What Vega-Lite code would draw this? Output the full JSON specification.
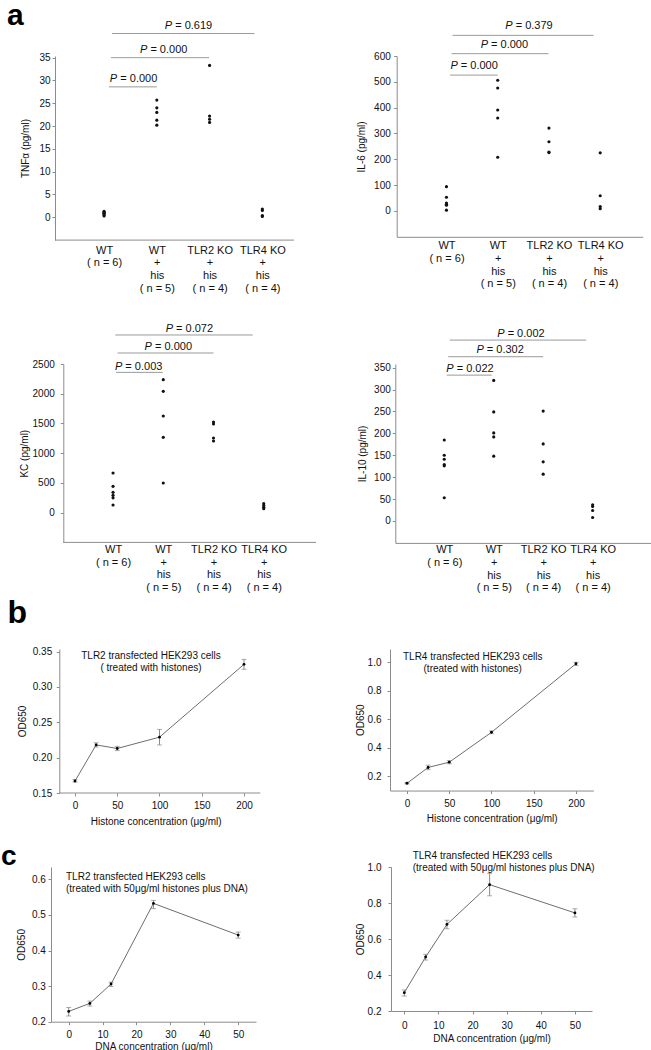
{
"$schema": "https://vega.github.io/schema/vega-lite/v6.json",
"padding": 0,
"background": "white",
"config": {
 "font": "Liberation Sans",
 "view": {"stroke": null},
 "axis": {"grid": false, "domainColor": "#8c8c8c", "tickColor": "#8c8c8c", "labelFont": "Liberation Sans", "titleFont": "Liberation Sans", "labelColor": "#111", "titleColor": "#111", "labelFontSize": 10, "titleFontSize": 10, "titleFontWeight": "normal", "tickSize": 3, "labelPadding": 2, "labelOverlap": false, "tickCount": 50},
 "text": {"font": "Liberation Sans", "color": "#111"}
},
"datasets": {
 "tnf": [{"g":1,"v":0.3},{"g":1,"v":0.5},{"g":1,"v":0.7},{"g":1,"v":0.9},{"g":1,"v":1.1},{"g":1,"v":1.3},{"g":2,"v":25.7},{"g":2,"v":24.0},{"g":2,"v":23.0},{"g":2,"v":21.3},{"g":2,"v":20.2},{"g":3,"v":33.3},{"g":3,"v":22.2},{"g":3,"v":21.5},{"g":3,"v":20.8},{"g":4,"v":1.8},{"g":4,"v":1.5},{"g":4,"v":0.4},{"g":4,"v":0.2}],
 "tnfp": [{"x1":1.09,"x2":2.0,"xm":1.56,"y":28.6,"p":"= 0.000"},{"x1":1.13,"x2":2.99,"xm":2.13,"y":35.0,"p":"= 0.000"},{"x1":1.15,"x2":3.85,"xm":2.6,"y":40.3,"p":"= 0.619"}],
 "il6": [{"g":1,"v":94},{"g":1,"v":53},{"g":1,"v":31},{"g":1,"v":26},{"g":1,"v":22},{"g":1,"v":3},{"g":2,"v":506},{"g":2,"v":476},{"g":2,"v":391},{"g":2,"v":360},{"g":2,"v":208},{"g":3,"v":321},{"g":3,"v":268},{"g":3,"v":228},{"g":3,"v":226},{"g":4,"v":225},{"g":4,"v":59},{"g":4,"v":17},{"g":4,"v":9}],
 "il6p": [{"x1":1.07,"x2":2.0,"xm":1.54,"y":526,"p":"= 0.000"},{"x1":1.1,"x2":2.99,"xm":2.13,"y":609,"p":"= 0.000"},{"x1":1.12,"x2":3.87,"xm":2.61,"y":680,"p":"= 0.379"}],
 "kc": [{"g":1,"v":667},{"g":1,"v":443},{"g":1,"v":342},{"g":1,"v":291},{"g":1,"v":250},{"g":1,"v":129},{"g":2,"v":2237},{"g":2,"v":2040},{"g":2,"v":1626},{"g":2,"v":1267},{"g":2,"v":499},{"g":3,"v":1525},{"g":3,"v":1491},{"g":3,"v":1256},{"g":3,"v":1205},{"g":4,"v":151},{"g":4,"v":120},{"g":4,"v":90},{"g":4,"v":67}],
 "kcp": [{"x1":1.06,"x2":1.99,"xm":1.51,"y":2359,"p":"= 0.003"},{"x1":1.09,"x2":3.0,"xm":2.1,"y":2685,"p":"= 0.000"},{"x1":1.045,"x2":3.78,"xm":2.52,"y":2988,"p":"= 0.072"}],
 "il10": [{"g":1,"v":185},{"g":1,"v":150},{"g":1,"v":141},{"g":1,"v":129},{"g":1,"v":126},{"g":1,"v":53},{"g":2,"v":321},{"g":2,"v":249},{"g":2,"v":201},{"g":2,"v":192},{"g":2,"v":148},{"g":3,"v":251},{"g":3,"v":176},{"g":3,"v":135},{"g":3,"v":107},{"g":4,"v":37},{"g":4,"v":33},{"g":4,"v":24},{"g":4,"v":8}],
 "il10p": [{"x1":1.05,"x2":1.96,"xm":1.52,"y":333,"p":"= 0.022"},{"x1":1.08,"x2":3.0,"xm":2.13,"y":375,"p":"= 0.302"},{"x1":1.11,"x2":3.87,"xm":2.55,"y":413,"p":"= 0.002"}],
 "b1": [{"c":0,"od":0.167,"lo":0.1655,"hi":0.169},{"c":25,"od":0.218,"lo":0.215,"hi":0.221},{"c":50,"od":0.213,"lo":0.210,"hi":0.216},{"c":100,"od":0.229,"lo":0.218,"hi":0.240},{"c":200,"od":0.332,"lo":0.325,"hi":0.339}],
 "b2": [{"c":0,"od":0.151,"lo":0.146,"hi":0.156},{"c":25,"od":0.262,"lo":0.247,"hi":0.278},{"c":50,"od":0.299,"lo":0.288,"hi":0.31},{"c":100,"od":0.509,"lo":0.499,"hi":0.518},{"c":200,"od":0.99,"lo":0.977,"hi":1.0}],
 "c1": [{"c":0,"od":0.229,"lo":0.216,"hi":0.240},{"c":6.25,"od":0.2515,"lo":0.244,"hi":0.258},{"c":12.5,"od":0.306,"lo":0.299,"hi":0.311},{"c":25,"od":0.5326,"lo":0.518,"hi":0.541},{"c":50,"od":0.4436,"lo":0.435,"hi":0.452}],
 "c2": [{"c":0,"od":0.302,"lo":0.283,"hi":0.317},{"c":6.25,"od":0.5,"lo":0.483,"hi":0.515},{"c":12.5,"od":0.681,"lo":0.657,"hi":0.704},{"c":25,"od":0.902,"lo":0.84,"hi":0.965},{"c":50,"od":0.745,"lo":0.722,"hi":0.768}]
},
"concat": [
 {"hconcat": [
  {"width": 243, "height": 184.1,
   "layer": [
    {"data": {"name": "tnf"}, "mark": {"type": "circle", "size": 10, "color": "#111", "opacity": 1},
     "encoding": {
      "x": {"field": "g", "type": "quantitative", "scale": {"domain": [-0.0057, 4.6], "nice": false, "zero": false},
            "axis": {"values": [1,2,3,4], "tickCount": 50, "labelExpr": "datum.value == 1 ? ['WT','( n = 6)'] : datum.value == 2 ? ['WT','+','his','( n = 5)'] : datum.value == 3 ? ['TLR2 KO','+','his','( n = 4)'] : ['TLR4 KO','+','his','( n = 4)']", "ticks": false, "tickSize": 0, "domain": false, "labelFontSize": 11, "labelBaseline": "top", "labelLineHeight": 12.7, "labelPadding": 4, "labelOverlap": false, "labelFlush": false, "labelBound": false, "title": " ", "titleFontSize": 10, "titlePadding": 19.5}},
      "y": {"field": "v", "type": "quantitative", "scale": {"domain": [-5, 35.37], "nice": false, "zero": false},
            "axis": {"values": [0,5,10,15,20,25,30,35], "tickCount": 50, "labelOverlap": false, "offset": -4, "labelPadding": 2, "title": "TNFα (pg/ml)", "titlePadding": 7.9}}
     }},
    {"data": {"name": "tnfp"}, "mark": {"type": "rule", "color": "#9a9a9a", "strokeWidth": 1},
     "encoding": {"x": {"field": "x1", "type": "quantitative"}, "x2": {"field": "x2"}, "y": {"field": "y", "type": "quantitative"}}},
    {"data": {"name": "tnfp"}, "mark": {"type": "text", "text": "P", "fontStyle": "italic", "fontSize": 11, "align": "right", "baseline": "alphabetic", "dx": -16.4, "dy": -5},
     "encoding": {"x": {"field": "xm", "type": "quantitative"}, "y": {"field": "y", "type": "quantitative"}}},
    {"data": {"name": "tnfp"}, "mark": {"type": "text", "fontSize": 11, "align": "left", "baseline": "alphabetic", "dx": -13.3, "dy": -5},
     "encoding": {"x": {"field": "xm", "type": "quantitative"}, "y": {"field": "y", "type": "quantitative"}, "text": {"field": "p"}}},
    {"data": {"values": [{}]}, "mark": {"type": "rule", "color": "#8c8c8c"},
     "encoding": {"x": {"datum": 0.07}, "x2": {"datum": 4.6}, "y": {"datum": -5}}},
    {"data": {"values": [{}]}, "mark": {"type": "text", "text": "a", "fontSize": 30, "fontWeight": "bold", "align": "left", "baseline": "alphabetic", "color": "#000"},
     "encoding": {"x": {"datum": -0.84}, "y": {"datum": 42.17}}}
   ]},
  {"width": 246, "height": 180.8,
   "layer": [
    {"data": {"name": "il6"}, "mark": {"type": "circle", "size": 10, "color": "#111", "opacity": 1},
     "encoding": {
      "x": {"field": "g", "type": "quantitative", "scale": {"domain": [0.029, 4.829], "nice": false, "zero": false},
            "axis": {"values": [1,2,3,4], "tickCount": 50, "labelExpr": "datum.value == 1 ? ['WT','( n = 6)'] : datum.value == 2 ? ['WT','+','his','( n = 5)'] : datum.value == 3 ? ['TLR2 KO','+','his','( n = 4)'] : ['TLR4 KO','+','his','( n = 4)']", "ticks": false, "tickSize": 0, "domain": true, "labelFontSize": 11, "labelBaseline": "top", "labelLineHeight": 12.7, "labelPadding": 3, "labelOverlap": false, "labelFlush": false, "labelBound": false, "title": null}},
      "y": {"field": "v", "type": "quantitative", "scale": {"domain": [-100, 600], "nice": false, "zero": false},
            "axis": {"values": [0,100,200,300,400,500,600], "tickCount": 50, "labelOverlap": false, "labelPadding": 3.4, "title": "IL-6 (pg/ml)", "titlePadding": 6.9}}
     }},
    {"data": {"name": "il6p"}, "mark": {"type": "rule", "color": "#9a9a9a", "strokeWidth": 1},
     "encoding": {"x": {"field": "x1", "type": "quantitative"}, "x2": {"field": "x2"}, "y": {"field": "y", "type": "quantitative"}}},
    {"data": {"name": "il6p"}, "mark": {"type": "text", "text": "P", "fontStyle": "italic", "fontSize": 11, "align": "right", "baseline": "alphabetic", "dx": -16.4, "dy": -6},
     "encoding": {"x": {"field": "xm", "type": "quantitative"}, "y": {"field": "y", "type": "quantitative"}}},
    {"data": {"name": "il6p"}, "mark": {"type": "text", "fontSize": 11, "align": "left", "baseline": "alphabetic", "dx": -13.3, "dy": -6},
     "encoding": {"x": {"field": "xm", "type": "quantitative"}, "y": {"field": "y", "type": "quantitative"}, "text": {"field": "p"}}}
   ]}
 ], "spacing": 102.7, "bounds": "flush"},
 {"hconcat": [
  {"width": 265, "height": 178.4,
   "layer": [
    {"data": {"name": "kc"}, "mark": {"type": "circle", "size": 10, "color": "#111", "opacity": 1},
     "encoding": {
      "x": {"field": "g", "type": "quantitative", "scale": {"domain": [-0.235, 5.04], "nice": false, "zero": false},
            "axis": {"values": [1,2,3,4], "tickCount": 50, "labelExpr": "datum.value == 1 ? ['WT','( n = 6)'] : datum.value == 2 ? ['WT','+','his','( n = 5)'] : datum.value == 3 ? ['TLR2 KO','+','his','( n = 4)'] : ['TLR4 KO','+','his','( n = 4)']", "ticks": false, "tickSize": 0, "domain": false, "labelFontSize": 11, "labelBaseline": "top", "labelLineHeight": 12.7, "labelPadding": 1, "labelOverlap": false, "labelFlush": false, "labelBound": false, "title": null}},
      "y": {"field": "v", "type": "quantitative", "scale": {"domain": [-500, 2500], "nice": false, "zero": false},
            "axis": {"values": [0,500,1000,1500,2000,2500], "tickCount": 50, "labelOverlap": false, "format": "d", "offset": -12.3, "labelPadding": 6, "title": "KC (pg/ml)", "titlePadding": 2.8}}
     }},
    {"data": {"name": "kcp"}, "mark": {"type": "rule", "color": "#9a9a9a", "strokeWidth": 1},
     "encoding": {"x": {"field": "x1", "type": "quantitative"}, "x2": {"field": "x2"}, "y": {"field": "y", "type": "quantitative"}}},
    {"data": {"name": "kcp"}, "mark": {"type": "text", "text": "P", "fontStyle": "italic", "fontSize": 11, "align": "right", "baseline": "alphabetic", "dx": -16.4, "dy": -2.6},
     "encoding": {"x": {"field": "xm", "type": "quantitative"}, "y": {"field": "y", "type": "quantitative"}}},
    {"data": {"name": "kcp"}, "mark": {"type": "text", "fontSize": 11, "align": "left", "baseline": "alphabetic", "dx": -13.3, "dy": -2.6},
     "encoding": {"x": {"field": "xm", "type": "quantitative"}, "y": {"field": "y", "type": "quantitative"}, "text": {"field": "p"}}},
    {"data": {"values": [{}]}, "mark": {"type": "rule", "color": "#8c8c8c"},
     "encoding": {"x": {"datum": 0.01}, "x2": {"datum": 5.04}, "y": {"datum": -500}}}
   ]},
  {"width": 256, "height": 178.9,
   "layer": [
    {"data": {"name": "il10"}, "mark": {"type": "circle", "size": 10, "color": "#111", "opacity": 1},
     "encoding": {
      "x": {"field": "g", "type": "quantitative", "scale": {"domain": [0.01, 5.186], "nice": false, "zero": false},
            "axis": {"values": [1,2,3,4], "tickCount": 50, "labelExpr": "datum.value == 1 ? ['WT','( n = 6)'] : datum.value == 2 ? ['WT','+','his','( n = 5)'] : datum.value == 3 ? ['TLR2 KO','+','his','( n = 4)'] : ['TLR4 KO','+','his','( n = 4)']", "ticks": false, "tickSize": 0, "domain": true, "labelFontSize": 11, "labelBaseline": "top", "labelLineHeight": 12.7, "labelPadding": 1, "labelOverlap": false, "labelFlush": false, "labelBound": false, "title": null}},
      "y": {"field": "v", "type": "quantitative", "scale": {"domain": [-50, 358.4], "nice": false, "zero": false},
            "axis": {"values": [0,50,100,150,200,250,300,350], "tickCount": 50, "labelOverlap": false, "labelPadding": 2, "title": "IL-10 (pg/ml)", "titlePadding": 6.6}}
     }},
    {"data": {"name": "il10p"}, "mark": {"type": "rule", "color": "#9a9a9a", "strokeWidth": 1},
     "encoding": {"x": {"field": "x1", "type": "quantitative"}, "x2": {"field": "x2"}, "y": {"field": "y", "type": "quantitative"}}},
    {"data": {"name": "il10p"}, "mark": {"type": "text", "text": "P", "fontStyle": "italic", "fontSize": 11, "align": "right", "baseline": "alphabetic", "dx": -16.4, "dy": -3.3},
     "encoding": {"x": {"field": "xm", "type": "quantitative"}, "y": {"field": "y", "type": "quantitative"}}},
    {"data": {"name": "il10p"}, "mark": {"type": "text", "fontSize": 11, "align": "left", "baseline": "alphabetic", "dx": -13.3, "dy": -3.3},
     "encoding": {"x": {"field": "xm", "type": "quantitative"}, "y": {"field": "y", "type": "quantitative"}, "text": {"field": "p"}}}
   ]}
 ], "spacing": 79.3, "bounds": "flush"},
 {"hconcat": [
  {"width": 209.3, "height": 144,
   "layer": [
    {"data": {"name": "b1"}, "mark": {"type": "line", "color": "#6e6e6e", "strokeWidth": 1},
     "encoding": {
      "x": {"field": "c", "type": "quantitative", "scale": {"domain": [-28.4, 219.3], "nice": false, "zero": false},
            "axis": {"values": [0,50,100,150,200], "tickCount": 50, "labelOverlap": false, "domain": false, "tickSize": 3, "labelPadding": 4.7, "labelFlush": false, "title": "Histone concentration (μg/ml)", "titlePadding": 5.3}},
      "y": {"field": "od", "type": "quantitative", "scale": {"domain": [0.15, 0.3537], "nice": false, "zero": false},
            "axis": {"values": [0.15,0.2,0.25,0.3,0.35], "tickCount": 50, "labelOverlap": false, "format": ".2f", "offset": -8.3, "labelPadding": 4.6, "title": "OD650", "titlePadding": 4.5}}
     }},
    {"data": {"name": "b1"}, "mark": {"type": "errorbar", "ticks": true, "size": 5, "thickness": 1, "color": "#8a8a8a"},
     "encoding": {"x": {"field": "c", "type": "quantitative", "title": "Histone concentration (μg/ml)"}, "y": {"field": "lo", "type": "quantitative", "title": "OD650"}, "y2": {"field": "hi"}}},
    {"data": {"name": "b1"}, "mark": {"type": "circle", "size": 8, "color": "#000", "opacity": 1},
     "encoding": {"x": {"field": "c", "type": "quantitative"}, "y": {"field": "od", "type": "quantitative"}}},
    {"data": {"values": [{}]}, "mark": {"type": "rule", "color": "#8c8c8c"},
     "encoding": {"x": {"datum": -18.6}, "x2": {"datum": 219.3}, "y": {"datum": 0.15}}},
    {"data": {"values": [{}]}, "mark": {"type": "text", "text": "TLR2 transfected HEK293 cells\n( treated with histones)", "lineBreak": "\n", "lineHeight": 12, "fontSize": 10, "align": "center", "baseline": "top"},
     "encoding": {"x": {"datum": 89.9}, "y": {"datum": 0.3508}}},
    {"data": {"values": [{}]}, "mark": {"type": "text", "text": "\nb", "lineBreak": "\n", "lineHeight": 3.7, "fontSize": 32, "fontWeight": "bold", "align": "left", "baseline": "alphabetic", "color": "#000"},
     "encoding": {"x": {"datum": -79.9}, "y": {"datum": 0.3953}}}
   ]},
  {"width": 203.4, "height": 141.55,
   "layer": [
    {"data": {"name": "b2"}, "mark": {"type": "line", "color": "#6e6e6e", "strokeWidth": 1},
     "encoding": {
      "x": {"field": "c", "type": "quantitative", "scale": {"domain": [-20.1, 220.6], "nice": false, "zero": false},
            "axis": {"values": [0,50,100,150,200], "tickCount": 50, "labelOverlap": false, "domain": true, "tickSize": 3, "labelPadding": 5.4, "labelFlush": false, "title": "Histone concentration (μg/ml)", "titlePadding": 5}},
      "y": {"field": "od", "type": "quantitative", "scale": {"domain": [0.1, 1.0933], "nice": false, "zero": false},
            "axis": {"values": [0.2,0.4,0.6,0.8,1.0], "tickCount": 50, "labelOverlap": false, "format": ".1f", "labelPadding": 6, "title": "OD650", "titlePadding": 1.4}}
     }},
    {"data": {"name": "b2"}, "mark": {"type": "errorbar", "ticks": true, "size": 5, "thickness": 1, "color": "#8a8a8a"},
     "encoding": {"x": {"field": "c", "type": "quantitative", "title": "Histone concentration (μg/ml)"}, "y": {"field": "lo", "type": "quantitative", "title": "OD650"}, "y2": {"field": "hi"}}},
    {"data": {"name": "b2"}, "mark": {"type": "circle", "size": 8, "color": "#000", "opacity": 1},
     "encoding": {"x": {"field": "c", "type": "quantitative"}, "y": {"field": "od", "type": "quantitative"}}},
    {"data": {"values": [{}]}, "mark": {"type": "text", "text": "TLR4 transfected HEK293 cells\n(treated with histones)", "lineBreak": "\n", "lineHeight": 12, "fontSize": 10, "align": "center", "baseline": "top"},
     "encoding": {"x": {"datum": 77.8}, "y": {"datum": 1.0723}}}
   ]}
 ], "spacing": 129, "bounds": "flush"},
 {"hconcat": [
  {"width": 205, "height": 154.7,
   "layer": [
    {"data": {"name": "c1"}, "mark": {"type": "line", "color": "#6e6e6e", "strokeWidth": 1},
     "encoding": {
      "x": {"field": "c", "type": "quantitative", "scale": {"domain": [-5.22, 55.25], "nice": false, "zero": false},
            "axis": {"values": [0,10,20,30,40,50], "tickCount": 50, "labelOverlap": false, "domain": true, "tickSize": 3, "labelPadding": 4.5, "labelFlush": false, "title": "DNA concentration (μg/ml)", "titlePadding": 2}},
      "y": {"field": "od", "type": "quantitative", "scale": {"domain": [0.2, 0.6349], "nice": false, "zero": false},
            "axis": {"values": [0.2,0.3,0.4,0.5,0.6], "tickCount": 50, "labelOverlap": false, "format": ".1f", "labelPadding": 2.7, "title": "OD650", "titlePadding": 4.7}}
     }},
    {"data": {"name": "c1"}, "mark": {"type": "errorbar", "ticks": true, "size": 5, "thickness": 1, "color": "#8a8a8a"},
     "encoding": {"x": {"field": "c", "type": "quantitative", "title": "DNA concentration (μg/ml)"}, "y": {"field": "lo", "type": "quantitative", "title": "OD650"}, "y2": {"field": "hi"}}},
    {"data": {"name": "c1"}, "mark": {"type": "circle", "size": 8, "color": "#000", "opacity": 1},
     "encoding": {"x": {"field": "c", "type": "quantitative"}, "y": {"field": "od", "type": "quantitative"}}},
    {"data": {"values": [{}]}, "mark": {"type": "text", "text": "TLR2 transfected HEK293 cells\n(treated with 50μg/ml histones plus DNA)", "lineBreak": "\n", "lineHeight": 12, "fontSize": 10, "align": "left", "baseline": "top"},
     "encoding": {"x": {"datum": -0.8}, "y": {"datum": 0.6197}}},
    {"data": {"values": [{}]}, "mark": {"type": "text", "text": "\nc", "lineBreak": "\n", "lineHeight": 16.3, "fontSize": 28, "fontWeight": "bold", "align": "left", "baseline": "alphabetic", "color": "#000"},
     "encoding": {"x": {"datum": -19.97}, "y": {"datum": 0.6871}}}
   ]},
  {"width": 201, "height": 144,
   "layer": [
    {"data": {"name": "c2"}, "mark": {"type": "line", "color": "#6e6e6e", "strokeWidth": 1},
     "encoding": {
      "x": {"field": "c", "type": "quantitative", "scale": {"domain": [-3.9, 55.0], "nice": false, "zero": false},
            "axis": {"values": [0,10,20,30,40,50], "tickCount": 50, "labelOverlap": false, "domain": true, "tickSize": 3, "labelPadding": 6.1, "labelFlush": false, "title": "DNA concentration (μg/ml)", "titlePadding": 3.3}},
      "y": {"field": "od", "type": "quantitative", "scale": {"domain": [0.2, 1.0], "nice": false, "zero": false},
            "axis": {"values": [0.2,0.4,0.6,0.8,1.0], "tickCount": 50, "labelOverlap": false, "format": ".1f", "labelPadding": 7, "title": "OD650", "titlePadding": 1.1}}
     }},
    {"data": {"name": "c2"}, "mark": {"type": "errorbar", "ticks": true, "size": 5, "thickness": 1, "color": "#8a8a8a"},
     "encoding": {"x": {"field": "c", "type": "quantitative", "title": "DNA concentration (μg/ml)"}, "y": {"field": "lo", "type": "quantitative", "title": "OD650"}, "y2": {"field": "hi"}}},
    {"data": {"name": "c2"}, "mark": {"type": "circle", "size": 8, "color": "#000", "opacity": 1},
     "encoding": {"x": {"field": "c", "type": "quantitative"}, "y": {"field": "od", "type": "quantitative"}}},
    {"data": {"values": [{}]}, "mark": {"type": "text", "text": "TLR4 transfected HEK293 cells\n(treated with 50μg/ml histones plus DNA)", "lineBreak": "\n", "lineHeight": 12, "fontSize": 10, "align": "left", "baseline": "top"},
     "encoding": {"x": {"datum": 2.46}, "y": {"datum": 1.0883}}}
   ]}
 ], "spacing": 135, "bounds": "flush"}
],
"columns": 1,
"spacing": 0,
"align": "each",
"bounds": "full"
}
